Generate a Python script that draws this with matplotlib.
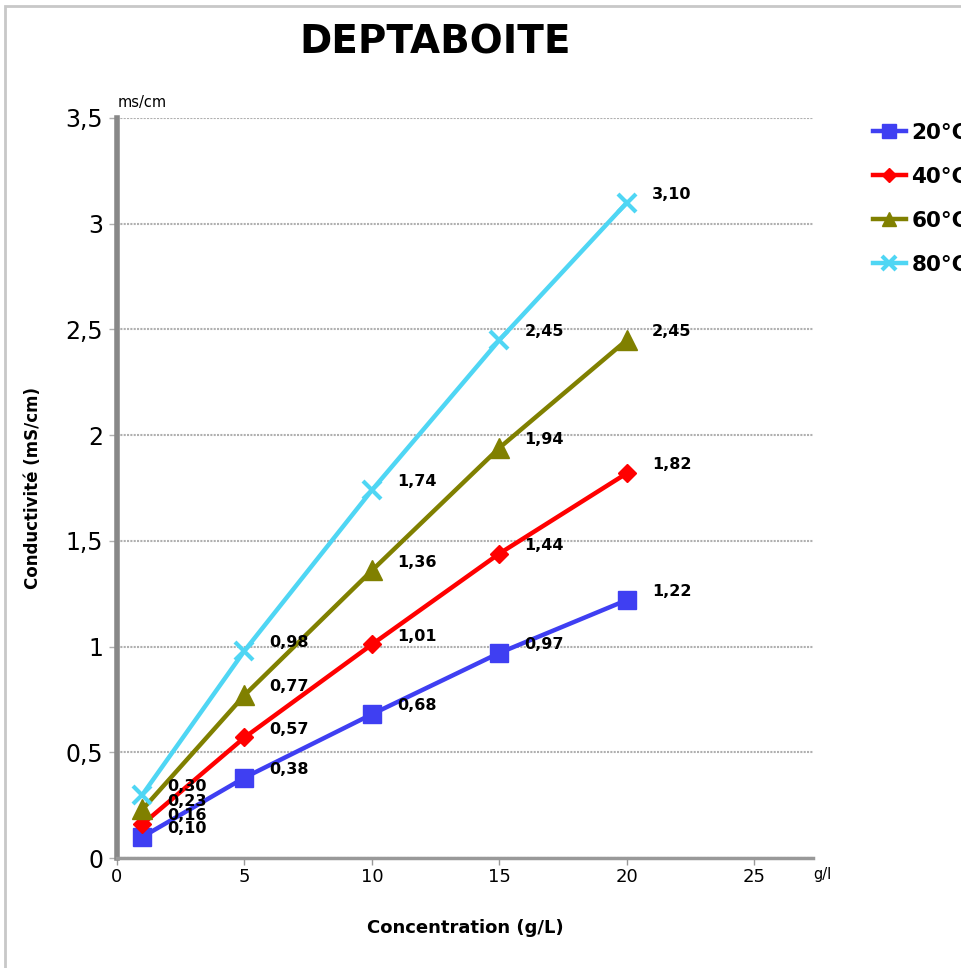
"""Conductivity vs concentration for DEPTABOITE at several temperatures."""

import matplotlib.pyplot as plt
from matplotlib.patches import Rectangle

concentration = [1, 5, 10, 15, 20]
series_names = ["20°C", "40°C", "60°C", "80°C"]
cond_20 = [0.10, 0.38, 0.68, 0.97, 1.22]
cond_40 = [0.16, 0.57, 1.01, 1.44, 1.82]
cond_60 = [0.23, 0.77, 1.36, 1.94, 2.45]
cond_80 = [0.30, 0.98, 1.74, 2.45, 3.10]

x_ticks = [0, 5, 10, 15, 20, 25]
y_ticks = [0, 0.5, 1, 1.5, 2, 2.5, 3, 3.5]
y_tick_labels = ["0", "0,5", "1", "1,5", "2", "2,5", "3", "3,5"]

styles = [
    dict(color="#3f3ff2", marker="s", ms=13),
    dict(color="#ff0000", marker="D", ms=9),
    dict(color="#808000", marker="^", ms=14),
    dict(color="#4fd6f4", marker="x", ms=13, mew=3),
]

fig = plt.figure(figsize=(9.61, 9.68), dpi=100)
ax = fig.add_axes([117 / 961, 1 - 858 / 968, 696 / 961, 740 / 968])

series = [cond_20, cond_40, cond_60, cond_80]
for name, values, st in zip(series_names, series, styles):
    ax.plot(concentration, values, lw=3.2, label=name, zorder=3, **st)
    for x, y in zip(concentration, values):
        ax.annotate(f"{y:.2f}".replace(".", ","), (x, y), xytext=(18, 6),
                    textcoords="offset points", fontsize=11.5,
                    fontweight="bold", va="center", ha="left", zorder=4)

ax.set_xlim(0, 27.3)
ax.set_ylim(0, 3.5)
ax.set_xticks(x_ticks)
ax.set_xticklabels([str(t) for t in x_ticks], fontsize=13)
ax.set_yticks(y_ticks)
ax.set_yticklabels(y_tick_labels, fontsize=17)
ax.yaxis.grid(True, color="#b0b0b0", lw=1.5, ls=(0, (1, 0.6)))
ax.set_axisbelow(True)

for side in ["top", "right"]:
    ax.spines[side].set_visible(False)
ax.spines["left"].set_color("#888888")
ax.spines["left"].set_linewidth(4)
ax.spines["bottom"].set_color("#999999")
ax.spines["bottom"].set_linewidth(2.5)
ax.tick_params(axis="y", length=6, width=1, color="#b0b0b0", pad=4)
ax.tick_params(axis="x", length=5, width=1, color="#999999", pad=2)

ax.set_xlabel("Concentration (g/L)", fontsize=13, fontweight="bold",
              labelpad=24)
ax.set_ylabel("Conductivité (mS/cm)", fontsize=12, fontweight="bold")
ax.yaxis.set_label_coords(-0.108, 0.5)

fig.text(118 / 961, 1 - 103 / 968, "ms/cm", fontsize=10.5, va="center")
fig.text(813 / 961, 1 - 875 / 968, "g/l", fontsize=10.5, va="center")
fig.text(435 / 961, 1 - 42 / 968, "DEPTABOITE", fontsize=28,
         fontweight="bold", ha="center", va="center")

fig.legend(loc="upper left", bbox_to_anchor=(864 / 961, 1 - 114 / 968),
           frameon=False, handlelength=1.55, handletextpad=0.25,
           labelspacing=1.12, borderaxespad=0, markerscale=0.75,
           prop=dict(size=15.5, weight="bold"))

fig.patches.append(Rectangle((5 / 961, -0.1), 1.1, 1.1 - 6 / 968,
                             transform=fig.transFigure, fill=False,
                             edgecolor="#c8c8c8", lw=2))

fig.savefig("out.png", dpi=100)
